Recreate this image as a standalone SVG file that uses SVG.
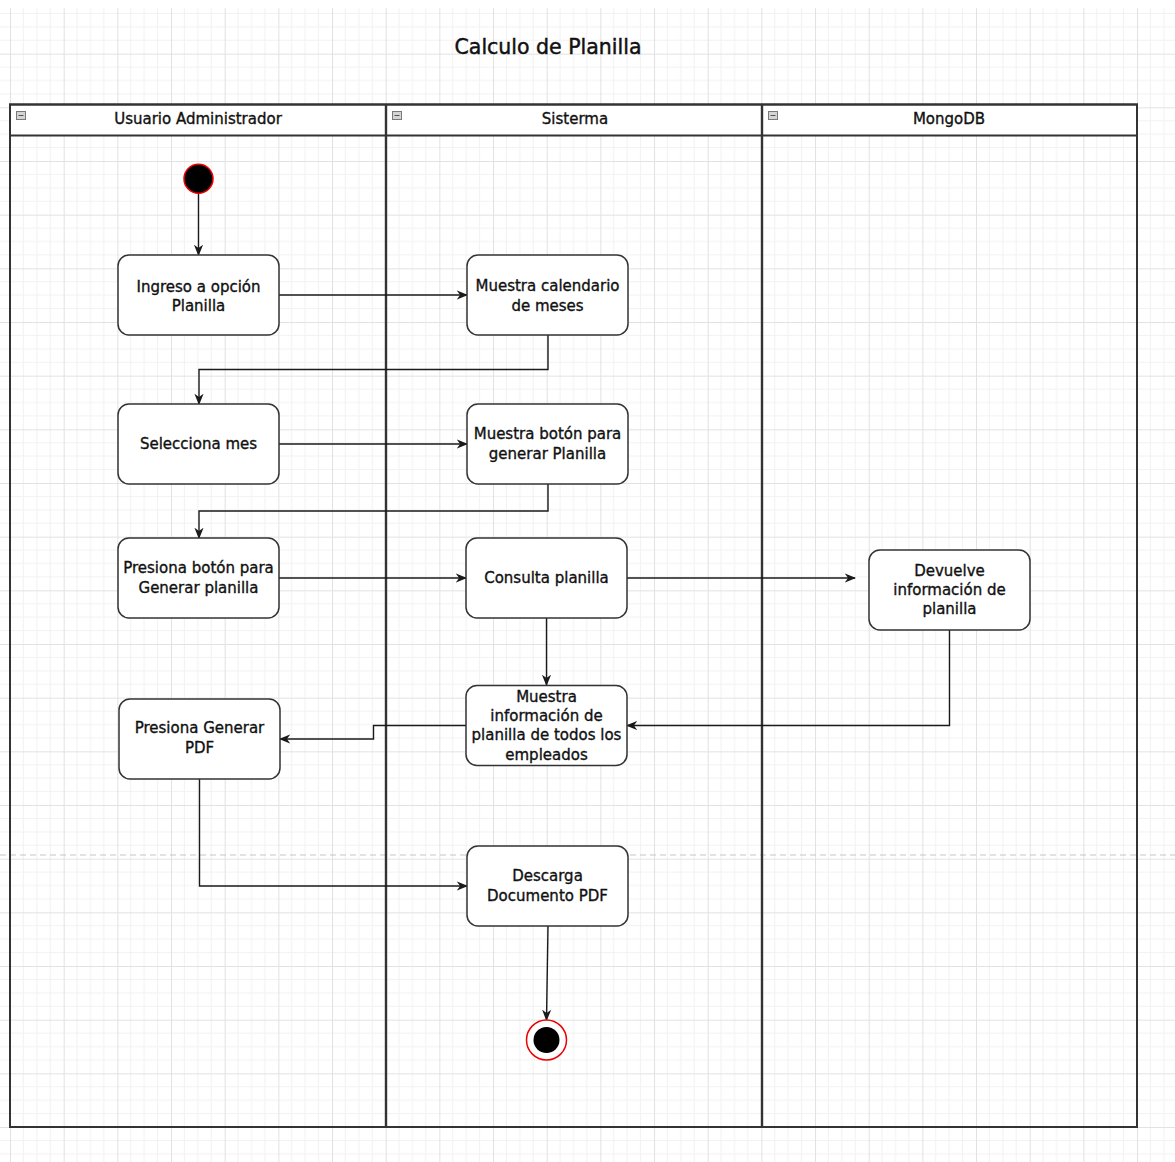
<svg xmlns="http://www.w3.org/2000/svg" width="1175" height="1162" viewBox="0 0 1175 1162">
  <style>
    .lbl { font-family: "DejaVu Sans", "Liberation Sans", sans-serif; font-size: 15px; fill: #111; stroke: #111; stroke-width: 0.35; text-anchor: middle; }
    .title { font-family: "DejaVu Sans", "Liberation Sans", sans-serif; font-size: 20.5px; fill: #111; stroke: #111; stroke-width: 0.45; text-anchor: middle; }
    .act { fill: #fff; stroke: #333; stroke-width: 1.5; }
    .edge { fill: none; stroke: #1a1a1a; stroke-width: 1.4; marker-end: url(#arr); }
    .pool { fill: none; stroke: #333; stroke-width: 2; }
    .hdr { fill: #fff; stroke: #333; stroke-width: 2; }
    .tog { fill: #d4d4d4; stroke: #7a7a7a; stroke-width: 1; }
  </style>
  <defs>
    <pattern id="grid" patternUnits="userSpaceOnUse" width="53.667" height="53.667" patternTransform="translate(10 0)">
      <rect width="53.667" height="53.667" fill="#fff"/>
      <path d="M13.417 0V53.667M26.833 0V53.667M40.25 0V53.667M0 13.417H53.667M0 26.833H53.667M0 40.25H53.667" stroke="#f2f2f2" stroke-width="1"/>
      <path d="M0.5 0V53.667M0 0.5H53.667" stroke="#e2e2e2" stroke-width="1"/>
    </pattern>
    <marker id="arr" viewBox="0 0 10 8" refX="9" refY="4" markerWidth="11.5" markerHeight="9.2" markerUnits="userSpaceOnUse" orient="auto">
      <path d="M0 0 L10 4 L0 8 L3 4 Z" fill="#1a1a1a"/>
    </marker>
  </defs>

  <!-- canvas with drawing grid -->
  <rect width="1175" height="1162" fill="#fff"/>
  <rect x="0" y="8" width="1175" height="1154" fill="url(#grid)"/>
  <line x1="0" y1="855" x2="1175" y2="855" stroke="#c6c6c6" stroke-width="1.2" stroke-dasharray="6 4"/>

  <text class="title" x="548" y="54">Calculo de Planilla</text>

  <!-- swimlane pool -->
  <g id="pool">
    <rect class="hdr" x="10" y="104.5" width="1127" height="31"/>
    <rect class="pool" x="10" y="104.5" width="1127" height="1022.5"/>
    <line x1="386" y1="104.5" x2="386" y2="1127" stroke="#333" stroke-width="2.4"/>
    <line x1="762" y1="104.5" x2="762" y2="1127" stroke="#333" stroke-width="2.4"/>
  </g>
  <g id="lane-usuario">
    <rect class="tog" x="16.5" y="111.5" width="9" height="8"/>
    <line x1="18.5" y1="115.5" x2="23.5" y2="115.5" stroke="#555" stroke-width="1"/>
    <text class="lbl" x="198" y="123.5">Usuario Administrador</text>
  </g>
  <g id="lane-sistema">
    <rect class="tog" x="392.5" y="111.5" width="9" height="8"/>
    <line x1="394.5" y1="115.5" x2="399.5" y2="115.5" stroke="#555" stroke-width="1"/>
    <text class="lbl" x="575" y="123.5">Sisterma</text>
  </g>
  <g id="lane-mongodb">
    <rect class="tog" x="768.5" y="111.5" width="9" height="8"/>
    <line x1="770.5" y1="115.5" x2="775.5" y2="115.5" stroke="#555" stroke-width="1"/>
    <text class="lbl" x="949" y="123.5">MongoDB</text>
  </g>

  <!-- connectors -->
  <g id="connectors">
    <path class="edge" d="M198.5 194 V255"/>
    <path class="edge" d="M279 295 H467"/>
    <path class="edge" d="M548 335 V369.5 H199 V404"/>
    <path class="edge" d="M279 444 H467"/>
    <path class="edge" d="M548 484 V511 H199 V538"/>
    <path class="edge" d="M279 578 H466"/>
    <path class="edge" d="M627 578 H855"/>
    <path class="edge" d="M546.5 618 V685"/>
    <path class="edge" d="M949.5 630 V725.5 H627"/>
    <path class="edge" d="M466 725.5 H373.5 V739 H280"/>
    <path class="edge" d="M199.5 779 V886 H467"/>
    <path class="edge" d="M548 926 L546.5 1020"/>
  </g>

  <!-- start -->
  <g id="start">
    <circle cx="198.5" cy="178.7" r="14.5" fill="#000" stroke="#e00" stroke-width="1.5"/>
  </g>

  <g id="ingreso">
    <rect class="act" x="118" y="255" width="161" height="80" rx="11"/>
    <text class="lbl" x="198.5" y="291.5">Ingreso a opción</text>
    <text class="lbl" x="198.5" y="311">Planilla</text>
  </g>
  <g id="calendario">
    <rect class="act" x="467" y="255" width="161" height="80" rx="11"/>
    <text class="lbl" x="547.5" y="291">Muestra calendario</text>
    <text class="lbl" x="547.5" y="311">de meses</text>
  </g>
  <g id="selecciona">
    <rect class="act" x="118" y="404" width="161" height="80" rx="11"/>
    <text class="lbl" x="198.5" y="448.5">Selecciona mes</text>
  </g>
  <g id="boton">
    <rect class="act" x="467" y="404" width="161" height="80" rx="11"/>
    <text class="lbl" x="547.5" y="438.5">Muestra botón para</text>
    <text class="lbl" x="547.5" y="458.5">generar Planilla</text>
  </g>
  <g id="presiona">
    <rect class="act" x="118" y="538" width="161" height="80" rx="11"/>
    <text class="lbl" x="198.5" y="572.5">Presiona botón para</text>
    <text class="lbl" x="198.5" y="592.5">Generar planilla</text>
  </g>
  <g id="consulta">
    <rect class="act" x="466" y="538" width="161" height="80" rx="11"/>
    <text class="lbl" x="546.5" y="582.5">Consulta planilla</text>
  </g>
  <g id="devuelve">
    <rect class="act" x="869" y="550" width="161" height="80" rx="11"/>
    <text class="lbl" x="949.5" y="575.5">Devuelve</text>
    <text class="lbl" x="949.5" y="594.5">información de</text>
    <text class="lbl" x="949.5" y="614">planilla</text>
  </g>
  <g id="muestra-info">
    <rect class="act" x="466" y="685.5" width="161" height="80" rx="11"/>
    <text class="lbl" x="546.5" y="701.5">Muestra</text>
    <text class="lbl" x="546.5" y="720.5">información de</text>
    <text class="lbl" x="546.5" y="740">planilla de todos los</text>
    <text class="lbl" x="546.5" y="759.5">empleados</text>
  </g>
  <g id="generar-pdf">
    <rect class="act" x="119" y="699" width="161" height="80" rx="11"/>
    <text class="lbl" x="199.5" y="733">Presiona Generar</text>
    <text class="lbl" x="199.5" y="753">PDF</text>
  </g>
  <g id="descarga">
    <rect class="act" x="467" y="846" width="161" height="80" rx="11"/>
    <text class="lbl" x="547.5" y="881">Descarga</text>
    <text class="lbl" x="547.5" y="901">Documento PDF</text>
  </g>

  <!-- end -->
  <g id="end">
    <circle cx="546.5" cy="1040" r="20" fill="#fff" stroke="#e00" stroke-width="1.5"/>
    <circle cx="546.5" cy="1040" r="13" fill="#000"/>
  </g>
</svg>
